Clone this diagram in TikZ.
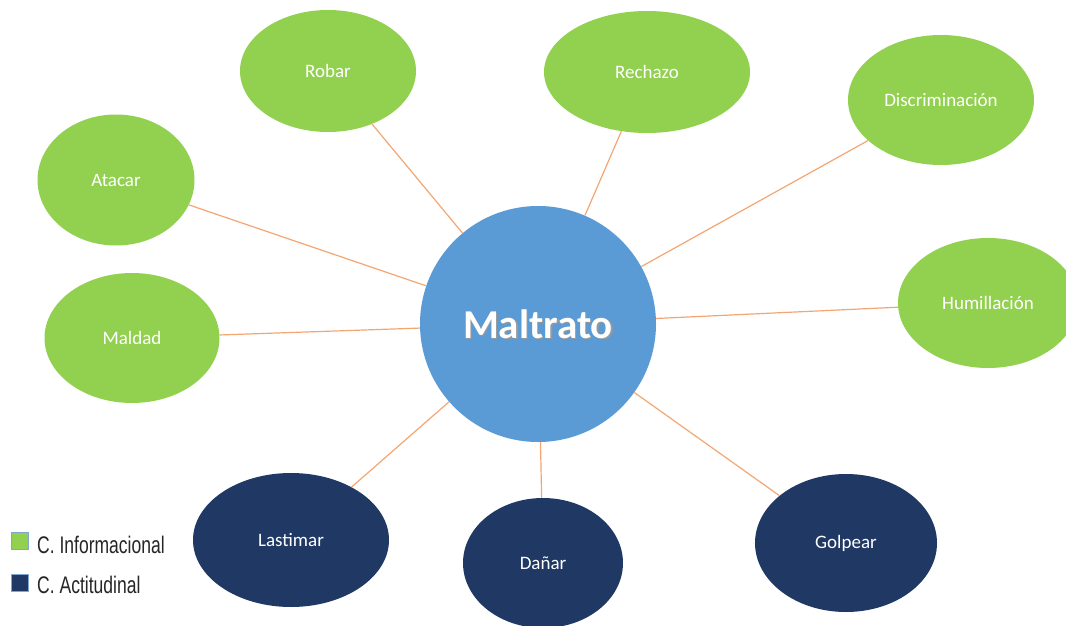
\documentclass[tikz,border=0pt]{standalone}
\usepackage{fontspec}
\setmainfont{Carlito}
\newfontfamily\legendfont[FakeStretch=0.73]{Liberation Sans}
\usetikzlibrary{shapes.geometric}
\definecolor{leafgreen}{HTML}{92D050}
\definecolor{navyfill}{HTML}{203864}
\definecolor{hubblue}{HTML}{5B9BD5}
\definecolor{linkorange}{HTML}{F4A672}
\definecolor{keyedge}{HTML}{7FA7D0}
\tikzset{
  hub/.style={circle, fill=hubblue, minimum size=236pt, inner sep=0pt},
  info/.style={ellipse, fill=leafgreen, inner sep=0pt, text=white, font=\fontsize{19}{22}\selectfont},
  attit/.style={ellipse, fill=navyfill, inner sep=0pt, text=white, font=\fontsize{19}{22}\selectfont},
  conn/.style={draw=linkorange, line width=1.2pt},
  keybox/.style={draw=keyedge, line width=0.8pt, minimum size=17pt, inner sep=0pt},
  keytext/.style={anchor=base west, inner sep=0pt, text=black!85, font=\legendfont\fontsize{24}{26}\selectfont}
}
\begin{document}
\begin{tikzpicture}[x=1pt,y=-1pt]
\useasboundingbox (0,0) rectangle (1066,626);
\clip (0,0) rectangle (1066,626);
\fill[white] (0,0) rectangle (1066,626);

% concept nodes
\node[hub] (c) at (538,324) {};
\node[info, minimum width=176pt, minimum height=122pt] (robar) at (328,71) {Robar};
\node[info, minimum width=206pt, minimum height=122pt] (rechazo) at (647,72) {Rechazo};
\node[info, minimum width=186pt, minimum height=130pt] (discr) at (941,100) {Discriminación};
\node[info, minimum width=157pt, minimum height=131pt] (atacar) at (116,180) {Atacar};
\node[info, minimum width=180pt, minimum height=130pt] (humil) at (988,303) {Humillación};
\node[info, minimum width=175pt, minimum height=130pt] (maldad) at (132,338) {Maldad};
\node[attit, minimum width=196pt, minimum height=134pt] (lastimar) at (291,540) {Lastimar};
\node[attit, minimum width=160pt, minimum height=130pt] (danar) at (543,563) {Dañar};
\node[attit, minimum width=182pt, minimum height=138pt] (golpear) at (846,543) {Golpear};

% connectors from the hub
\foreach \n in {robar,rechazo,discr,atacar,humil,maldad,lastimar,danar,golpear}
  \draw[conn] (c) -- (\n);

% hub label with a soft shadow
\node[text=black!40, font=\fontsize{41}{46}\selectfont\bfseries] at ([xshift=1.6pt,yshift=-1.6pt]c.center) {Maltrato};
\node[text=white, font=\fontsize{41}{46}\selectfont\bfseries] (hublabel) at (c.center) {Maltrato};

% legend
\node[keybox, fill=leafgreen] (k1) at (19.5,540.5) {};
\node[keytext] (t1) at (37,553) {C. Informacional};
\node[keybox, fill=navyfill] (k2) at (19.5,582.5) {};
\node[keytext] (t2) at (37,593) {C. Actitudinal};
\end{tikzpicture}
\end{document}
